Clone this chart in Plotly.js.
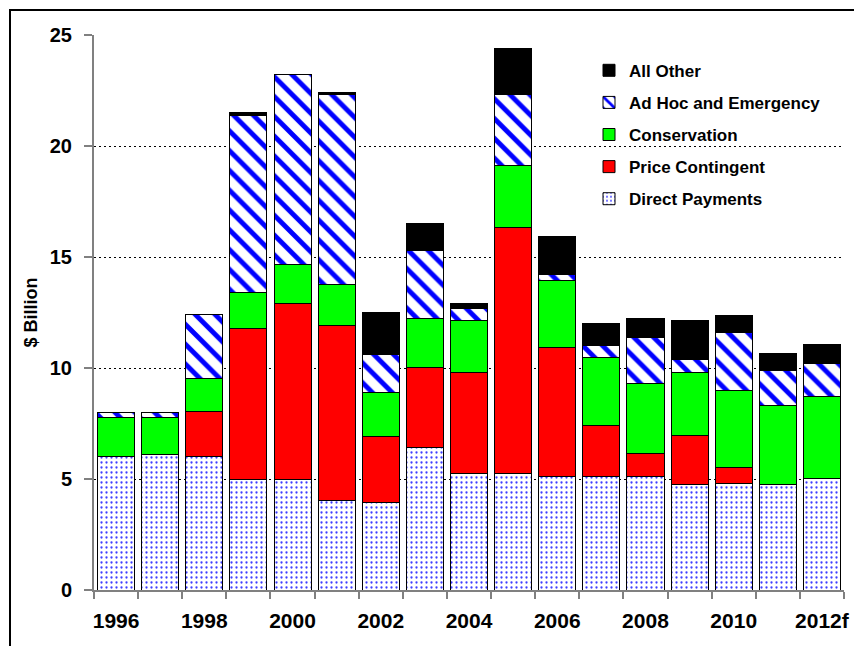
<!DOCTYPE html>
<html>
<head>
<meta charset="utf-8">
<script src="https://cdn.plot.ly/plotly-3.0.1.min.js"></script>
<style>
  html, body { margin: 0; padding: 0; background: #fff; overflow: hidden; }
  #chart { width: 854px; height: 646px; }
  #frame { position: absolute; left: 9px; top: 9px; width: 900px; height: 700px;
           border-left: 2px solid #000; border-top: 2px solid #000; pointer-events: none; }
</style>
</head>
<body>
<div id="chart"></div>
<div id="frame"></div>
<script>
// Categories and tick labels
const years = ['1996','1997','1998','1999','2000','2001','2002','2003','2004',
               '2005','2006','2007','2008','2009','2010','2011','2012f'];
const tickText = ['1996','','1998','','2000','','2002','','2004',
                  '','2006','','2008','','2010','','2012f'];

// Stacked segment values, $ billion
const directPayments = [6.02,6.11,6.02,5.00,5.00,4.02,3.93,6.40,5.24,5.24,5.11,5.11,5.11,4.75,4.82,4.75,5.02];
const priceContingent = [0,0,2.01,6.79,7.91,7.90,2.99,3.62,4.58,11.08,5.81,2.30,1.02,2.23,0.69,0,0];
const conservation = [1.77,1.68,1.49,1.61,1.74,1.86,1.99,2.19,2.31,2.78,3.00,3.06,3.17,2.82,3.46,3.54,3.68];
const adHocEmergency = [0.22,0.21,2.89,7.99,8.59,8.54,1.70,3.07,0.57,3.22,0.27,0.53,2.07,0.60,2.61,1.62,1.50];
const allOther = [0,0,0,0.13,0,0.11,1.91,1.25,0.22,2.09,1.72,1.01,0.84,1.72,0.77,0.73,0.86];

const FONT = 'Arial, "Liberation Sans", sans-serif';
const outline = { color: '#000000', width: 1 };

const traces = [
  { name: 'Direct Payments', y: directPayments, legendgroup: 'a', legendrank: 5,
    marker: { color: '#2b2bff', line: outline,
      pattern: { shape: '.', fgcolor: '#3c3cff', bgcolor: '#ffffff', size: 5, solidity: 0.16 } } },
  { name: 'Price Contingent', y: priceContingent, legendgroup: 'b', legendrank: 4,
    marker: { color: '#ff0000', line: outline } },
  { name: 'Conservation', y: conservation, legendgroup: 'c', legendrank: 3,
    marker: { color: '#00ff00', line: outline } },
  { name: 'Ad Hoc and Emergency', y: adHocEmergency, legendgroup: 'd', legendrank: 2,
    marker: { color: '#0000ff', line: outline,
      pattern: { shape: '\\', fgcolor: '#0000ff', bgcolor: '#ffffff', size: 14, solidity: 0.35 } } },
  { name: 'All Other', y: allOther, legendgroup: 'e', legendrank: 1,
    marker: { color: '#000000', line: outline } }
].map(t => Object.assign({ type: 'bar', x: years, hoverinfo: 'none' }, t));

const layout = {
  width: 854, height: 646,
  margin: { l: 94, r: 10, t: 35, b: 56, pad: 0 },
  paper_bgcolor: '#ffffff', plot_bgcolor: '#ffffff',
  barmode: 'stack', bargap: 0.16,
  font: { family: FONT, color: '#000000' },
  showlegend: true,
  legend: {
    x: 0.66, xanchor: 'left', y: 0.968, yanchor: 'top',
    traceorder: 'grouped', tracegroupgap: 7,
    bgcolor: 'rgba(0,0,0,0)', borderwidth: 0,
    font: { family: FONT, size: 17, color: '#000000', weight: 'bold' }
  },
  xaxis: {
    type: 'category', tickmode: 'array', tickvals: years, ticktext: tickText,
    tickson: 'boundaries', ticks: 'outside', ticklen: 7, tickwidth: 2, tickcolor: '#808080',
    showline: true, linecolor: '#808080', linewidth: 2,
    showgrid: false, zeroline: false, tickangle: 0,
    tickfont: { family: FONT, size: 21, color: '#000000', weight: 'bold' },
    ticklabelstandoff: 11
  },
  yaxis: {
    range: [0, 25], tickmode: 'array', tickvals: [0,5,10,15,20,25],
    ticks: 'outside', ticklen: 8, tickwidth: 2, tickcolor: '#808080',
    showline: true, linecolor: '#808080', linewidth: 2,
    showgrid: true, gridcolor: '#000000', gridwidth: 1, griddash: '2px,3px',
    zeroline: false,
    tickfont: { family: FONT, size: 20, color: '#000000', weight: 'bold' },
    ticklabelstandoff: 8,
    title: { text: '$ Billion', standoff: 7,
      font: { family: FONT, size: 18, color: '#000000', weight: 'bold' } }
  }
};

Plotly.newPlot('chart', traces, layout, { displayModeBar: false, staticPlot: true });
</script>
</body>
</html>
